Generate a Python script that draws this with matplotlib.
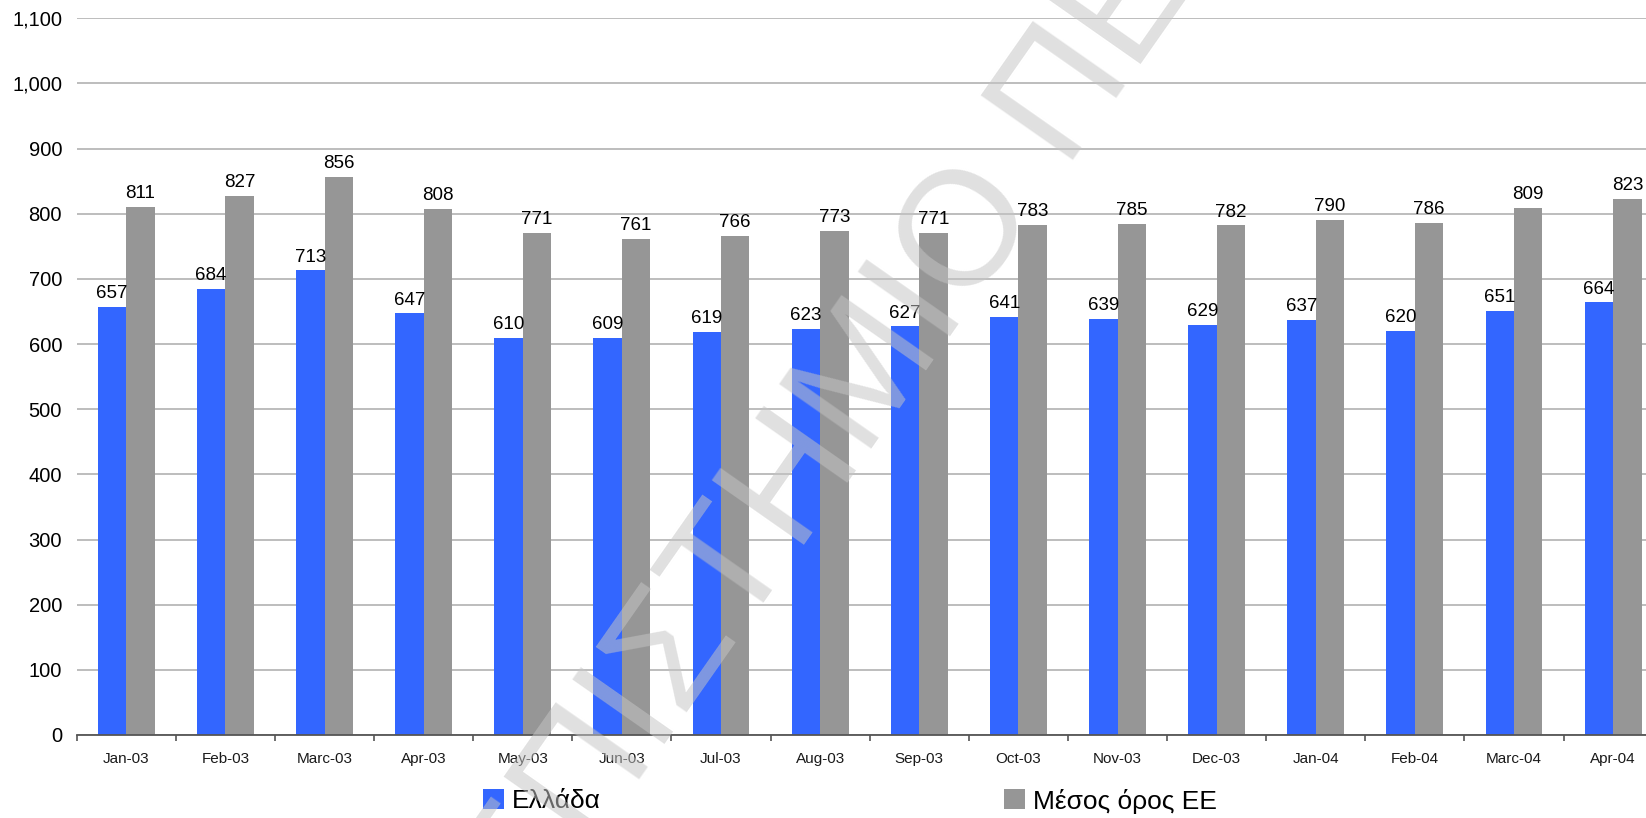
import numpy as np
import matplotlib
matplotlib.use("Agg")
import matplotlib.pyplot as plt
from matplotlib.ticker import FuncFormatter, FixedLocator
from matplotlib.patches import Patch

months = ["Jan-03", "Feb-03", "Marc-03", "Apr-03", "May-03", "Jun-03", "Jul-03",
          "Aug-03", "Sep-03", "Oct-03", "Nov-03", "Dec-03", "Jan-04", "Feb-04",
          "Marc-04", "Apr-04"]
greece = [657, 684, 713, 647, 610, 609, 619, 623, 627, 641, 639, 629, 637, 620, 651, 664]
eu_avg = [811, 827, 856, 808, 771, 761, 766, 773, 771, 783, 785, 782, 790, 786, 809, 823]
series_names = ["Ελλάδα", "Μέσος όρος ΕΕ"]
y_ticks = [0, 100, 200, 300, 400, 500, 600, 700, 800, 900, 1000, 1100]

BLUE = "#3366FF"
GREY = "#969696"

plt.rcParams["font.family"] = ["Liberation Sans", "DejaVu Sans"]

W, H = 1646, 818
fig = plt.figure(figsize=(W / 100, H / 100), dpi=100)
fig.patch.set_facecolor("white")

# plot area runs past the right edge of the canvas
ax = fig.add_axes([76.7 / W, 1 - 735 / H, 1586 / W, (735 - 18.3) / H])

x = np.arange(len(months))
bw = 0.287
b1 = ax.bar(x - bw / 2, greece, bw, color=BLUE, zorder=2)
b2 = ax.bar(x + bw / 2, eu_avg, bw, color=GREY, zorder=2)
for bars in (b1, b2):
    ax.bar_label(bars, padding=3.5, fontsize=13.5, color="black")

ax.set_xlim(-0.5, len(months) - 0.5)
ax.set_ylim(0, 1100)
ax.set_yticks(y_ticks)
ax.yaxis.set_major_formatter(FuncFormatter(lambda v, p: f"{int(v):,}"))
ax.tick_params(axis="y", length=0, pad=10.5, labelsize=14.5, labelcolor="black")
ax.yaxis.grid(True, color="#b8b8b8", linewidth=1.3, zorder=0)
ax.set_axisbelow(True)

ax.set_xticks(x)
ax.set_xticklabels(months)
ax.tick_params(axis="x", which="major", length=0, pad=12, labelsize=11,
               labelcolor="#1a1a1a")
ax.xaxis.set_minor_locator(FixedLocator(np.arange(-0.5, len(months), 1.0)))
ax.tick_params(axis="x", which="minor", length=4, width=1.2, color="#555555",
               direction="out")

for s in ("left", "top", "right"):
    ax.spines[s].set_visible(False)
ax.spines["bottom"].set_color("#555555")
ax.spines["bottom"].set_linewidth(1.3)

handles = [Patch(facecolor=BLUE, edgecolor="none"),
           Patch(facecolor=GREY, edgecolor="none")]
fig.legend(handles, series_names, loc="center left",
           bbox_to_anchor=(483 / W, 1 - 801 / H), ncol=2, frameon=False,
           fontsize=19, handlelength=0.78, handleheight=0.78,
           handletextpad=0.3, columnspacing=15.3, borderpad=0,
           borderaxespad=0)

# diagonal watermark drawn over the whole chart
wm_x, wm_y = 330 / W, 1 - 1222 / H
fig.text(wm_x, wm_y, "ΠΑΝΕΠΙΣΤΗΜΙΟ ΠΕΙΡΑΙΩΣ", fontsize=117, rotation=55,
         rotation_mode="anchor", ha="left", va="baseline",
         color="#c5c5c5", alpha=0.53, zorder=10)

fig.savefig("out.png", dpi=100)
